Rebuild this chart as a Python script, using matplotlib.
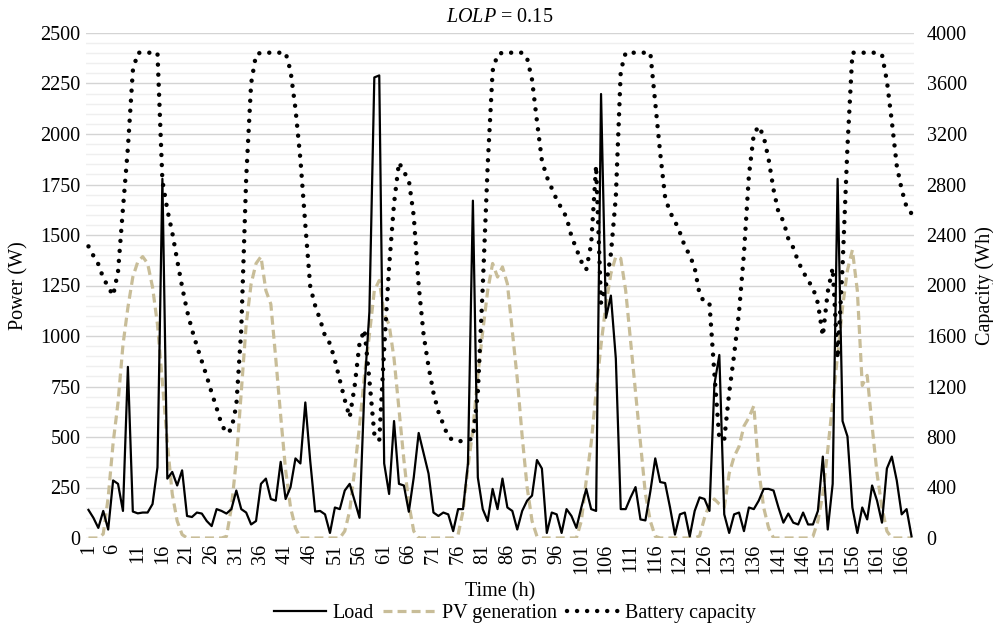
import matplotlib
matplotlib.use("Agg")
import matplotlib.pyplot as plt
import numpy as np
from matplotlib.lines import Line2D

hours = list(range(1, 169))

load = [139, 100, 50, 134, 42, 285, 268, 134, 847, 131, 122, 126, 126, 168, 350, 1778,
        294, 327, 260, 335, 109, 104, 126, 121, 84, 59, 143, 134, 121, 143, 235, 143,
        126, 67, 84, 268, 294, 193, 185, 377, 193, 252, 394, 369, 671, 380, 131, 134,
        117, 25, 151, 143, 235, 268, 185, 100, 740, 1120, 2280, 2290, 369, 218, 579, 268,
        260, 130, 300, 520, 419, 319, 126, 109, 126, 117, 34, 143, 143, 369, 1670, 300,
        143, 84, 243, 143, 294, 151, 134, 42, 134, 185, 210, 386, 344, 25, 126, 117,
        25, 143, 109, 50, 151, 243, 143, 134, 2198, 1090, 1200, 889, 143, 143, 201, 252,
        92, 87, 230, 394, 277, 272, 151, 17, 117, 126, 8, 134, 201, 193, 134, 760,
        906, 117, 25, 117, 126, 34, 151, 143, 185, 243, 243, 235, 151, 76, 121, 76,
        67, 126, 67, 67, 134, 403, 42, 268, 1778, 579, 503, 151, 25, 151, 92, 260,
        185, 76, 344, 403, 285, 117, 143, 8]

pv = [0, 0, 0, 20, 200, 470, 671, 956, 1141, 1292, 1367, 1393, 1359, 1242, 1057, 772,
      470, 218, 84, 17, 0, 0, 0, 0, 0, 0, 0, 0, 8, 151, 386, 721,
      1057, 1258, 1359, 1393, 1225, 1158, 889, 604, 336, 151, 50, 0, 0, 0, 0, 0,
      0, 0, 0, 0, 34, 134, 336, 554, 805, 1007, 1225, 1275, 1107, 1057, 889, 638,
      386, 168, 34, 0, 0, 0, 0, 0, 0, 0, 0, 17, 134, 352, 537, 805,
      1023, 1225, 1359, 1292, 1342, 1258, 1023, 789, 503, 252, 84, 8, 0, 0, 0, 0,
      0, 0, 0, 0, 84, 285, 470, 721, 956, 1158, 1309, 1393, 1384, 1225, 973, 721,
      470, 218, 84, 8, 0, 0, 0, 0, 0, 0, 0, 0, 10, 100, 168, 193,
      168, 151, 319, 403, 453, 554, 596, 654, 336, 151, 50, 0, 0, 0, 0, 0,
      0, 0, 0, 8, 84, 218, 436, 671, 906, 1141, 1326, 1426, 1225, 755, 805, 554,
      319, 151, 34, 0, 0, 0, 0, 0]

battery = [2310, 2236, 2169, 2060, 1990, 1920, 2110, 2610, 3090, 3700, 3844, 3844, 3844, 3844, 3844, 2830,
           2600, 2420, 2200, 1990, 1800, 1650, 1520, 1400, 1280, 1150, 1030, 900, 830, 860, 1050, 1650,
           2850, 3600, 3830, 3844, 3844, 3844, 3844, 3844, 3844, 3700, 3400, 3000, 2480, 1990, 1840, 1730,
           1600, 1540, 1410, 1250, 1095, 955, 1200, 1544, 1650, 1250, 825, 770, 1500, 2150, 2650, 2975,
           2900, 2836, 2550, 2000, 1610, 1357, 1150, 1000, 900, 800, 775, 765, 770, 775, 790, 1150,
           1990, 2950, 3700, 3830, 3844, 3844, 3844, 3844, 3844, 3800, 3630, 3300, 2990, 2860, 2770, 2680,
           2610, 2540, 2390, 2290, 2190, 2125, 2330, 2950, 1860, 2000, 2250, 2700, 3700, 3844, 3844, 3844,
           3844, 3844, 3844, 3450, 3050, 2700, 2580, 2510, 2420, 2310, 2240, 2140, 1930, 1866, 1858, 1300,
           785, 780, 1150, 1450, 1790, 2255, 2870, 3200, 3262, 3181, 3000, 2760, 2580, 2510, 2370, 2300,
           2190, 2110, 2040, 1980, 1860, 1600, 1950, 2140, 1420, 2150, 3100, 3844, 3844, 3844, 3844, 3844,
           3844, 3830, 3620, 3300, 2950, 2760, 2620, 2570]

xtick_labels = [str(h) for h in range(1, 167, 5)]

plt.rcParams['font.family'] = ['Liberation Serif', 'DejaVu Serif']
plt.rcParams['mathtext.fontset'] = 'custom'
plt.rcParams['mathtext.rm'] = 'Liberation Serif'
plt.rcParams['mathtext.it'] = 'Liberation Serif:italic'

FS = 14.5
PV_COLOR = '#C8BD98'

fig = plt.figure(figsize=(9.93, 6.26), dpi=100)
ax = fig.add_axes([86/993, 1-538/626, (914-86)/993, (538-33)/626])
ax2 = ax.twinx()

ax.set_xlim(0.5, 168.5)
ax.set_ylim(0, 2500)
ax2.set_ylim(0, 4000)

ax.set_yticks(np.arange(0, 2501, 250))
ax.set_yticks(np.arange(0, 2501, 50), minor=True)
ax2.set_yticks(np.arange(0, 4001, 400))
ax.grid(True, which='major', axis='y', color='#d4d4d4', lw=1.0, zorder=0)
ax.grid(True, which='minor', axis='y', color='#efefef', lw=1.0, zorder=0)
ax.set_axisbelow(True)

ax.plot(hours, pv, color=PV_COLOR, lw=2.3, linestyle=(0, (2.8, 1.6)), zorder=2)
ax.plot(hours, load, color='black', lw=1.6, zorder=3)
ax2.plot(hours, battery, color='black', lw=3.2, linestyle=(0, (0.01, 2.25)),
         dash_capstyle='round', zorder=4)

ax.set_xticks(range(1, 167, 5))
ax.set_xticklabels(xtick_labels, rotation=90, fontsize=FS)
ax.tick_params(axis='x', length=0, pad=4)
ax.tick_params(axis='y', which='both', length=0, pad=4, labelsize=FS)
ax2.tick_params(axis='y', length=0, pad=9, labelsize=FS)

for a in (ax, ax2):
    for s in a.spines.values():
        s.set_visible(False)

ax.set_ylabel('Power (W)', fontsize=FS, va='center')
ax.yaxis.set_label_coords((19-86)/828, 0.5)
ax2.set_ylabel('Capacity (Wh)', fontsize=FS, rotation=90, va='center')
ax2.yaxis.set_label_coords((985-86)/828, 0.5)
ax.set_xlabel('Time (h)', fontsize=FS, labelpad=6)

fig.text(500/993, 1-18/626, r'$\it{LOLP}$ = 0.15', fontsize=FS, ha='center', va='center')

handles = [Line2D([], [], color='black', lw=1.6),
           Line2D([], [], color=PV_COLOR, lw=2.3, linestyle=(0, (2.8, 1.6))),
           Line2D([], [], color='black', lw=3.2, linestyle=(0, (0.01, 2.25)), dash_capstyle='round')]
fig.legend(handles, ['Load', 'PV generation', 'Battery capacity'], loc='center',
           bbox_to_anchor=(515/993, 1-613/626), ncol=3, frameon=False, fontsize=FS,
           handlelength=2.6, handletextpad=0.3, columnspacing=0.5, borderaxespad=0)

fig.savefig('out.png', dpi=100)
